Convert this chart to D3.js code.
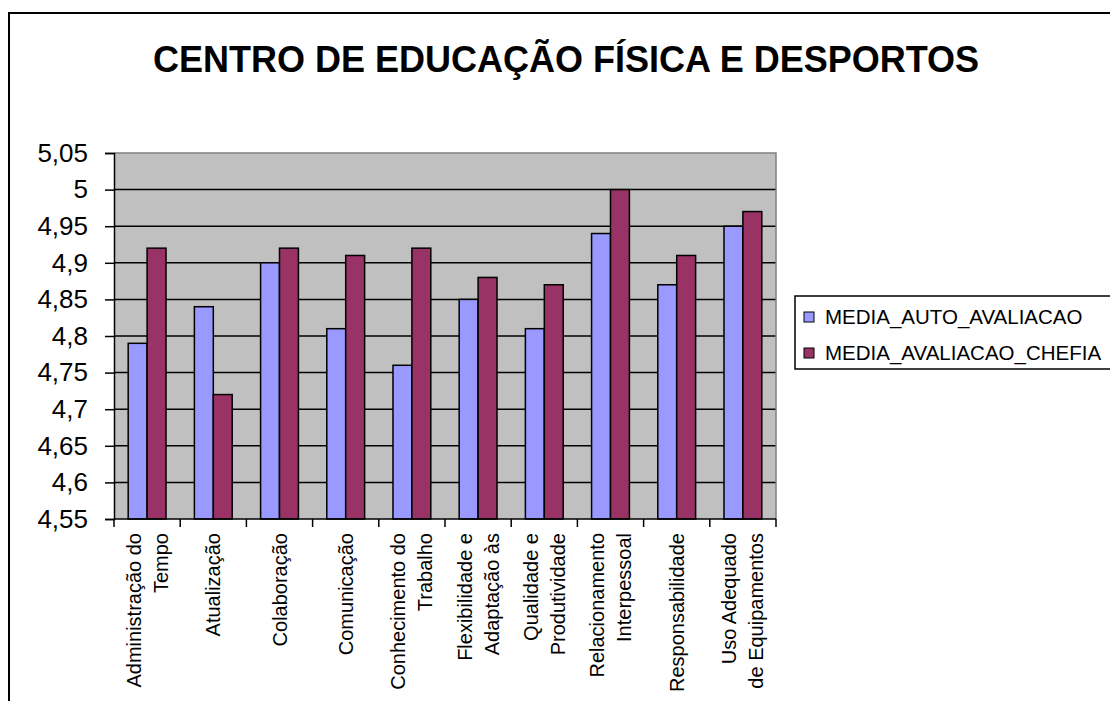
<html>

<head>
  <title>centro de educacao fisica</title>
  <meta charset="utf-8">
</head>
<style>
  body { margin: 0; background: #fff; }
  text { font-family: "Liberation Sans", Arial, sans-serif; }
</style>

<body>

  <div id="chart"></div>

</body>
<script src="https://d3js.org/d3.v7.min.js"></script>
<script>

  let width = 1110
  let height = 701

  // dados
  const categories = [
    ["Administração do", "Tempo"],
    ["Atualização"],
    ["Colaboração"],
    ["Comunicação"],
    ["Conhecimento do", "Trabalho"],
    ["Flexibilidade e", "Adaptação às"],
    ["Qualidade e", "Produtividade"],
    ["Relacionamento", "Interpessoal"],
    ["Responsabilidade"],
    ["Uso Adequado", "de Equipamentos"]
  ]
  const seriesNames = ["MEDIA_AUTO_AVALIACAO", "MEDIA_AVALIACAO_CHEFIA"]
  const autoValues = [4.79, 4.84, 4.90, 4.81, 4.76, 4.85, 4.81, 4.94, 4.87, 4.95]
  const chefiaValues = [4.92, 4.72, 4.92, 4.91, 4.92, 4.88, 4.87, 5.00, 4.91, 4.97]
  const yTicks = [4.55, 4.6, 4.65, 4.7, 4.75, 4.8, 4.85, 4.9, 4.95, 5, 5.05]
  const colors = ["#9999ff", "#993366"]

  const plot = { left: 114, right: 776, top: 153, bottom: 519 }

  let svg = d3.select("#chart")
    .append("svg")
    .attr("width", width)
    .attr("height", height)

  // moldura
  svg.append("rect")
    .attr("x", 9).attr("y", 13)
    .attr("width", 1300).attr("height", 900)
    .attr("fill", "none")
    .attr("stroke", "#000")
    .attr("stroke-width", 2)

  svg.append("text")
    .attr("x", 566)
    .attr("y", 72)
    .attr("text-anchor", "middle")
    .style("font-size", "36px")
    .style("font-weight", "bold")
    .text("CENTRO DE EDUCAÇÃO FÍSICA E DESPORTOS")

  let keys = categories.map(d => d.join(" "))

  let x0 = d3.scaleBand()
    .domain(keys)
    .range([plot.left, plot.right])

  let x1 = d3.scaleBand()
    .domain(seriesNames)
    .range([0, x0.bandwidth()])
    .paddingOuter(0.75)

  let y = d3.scaleLinear()
    .domain([4.55, 5.05])
    .range([plot.bottom, plot.top])

  // area do grafico
  svg.append("rect")
    .attr("x", plot.left).attr("y", plot.top)
    .attr("width", plot.right - plot.left)
    .attr("height", plot.bottom - plot.top)
    .attr("fill", "#c0c0c0")

  svg.append("g")
    .selectAll("line")
    .data(yTicks.slice(1, -1))
    .enter().append("line")
    .attr("x1", plot.left).attr("x2", plot.right)
    .attr("y1", d => y(d)).attr("y2", d => y(d))
    .attr("stroke", "#000")
    .attr("stroke-width", 1.5)

  svg.append("path")
    .attr("d", `M${plot.left},${plot.top}H${plot.right}V${plot.bottom}`)
    .attr("fill", "none")
    .attr("stroke", "#808080")
    .attr("stroke-width", 1.5)

  let rows = keys.map((k, i) => ({ key: k, values: [autoValues[i], chefiaValues[i]] }))

  svg.append("g")
    .selectAll("g")
    .data(rows)
    .enter().append("g")
    .attr("transform", d => `translate(${x0(d.key)},0)`)
    .selectAll("rect")
    .data(d => d.values.map((v, j) => ({ name: seriesNames[j], v: v, c: colors[j] })))
    .enter().append("rect")
    .attr("x", d => x1(d.name))
    .attr("width", x1.bandwidth())
    .attr("y", d => y(d.v))
    .attr("height", d => y(4.55) - y(d.v))
    .attr("fill", d => d.c)
    .attr("stroke", "#000")
    .attr("stroke-width", 1.5)

  // eixo y
  let yAxis = svg.append("g")
    .attr("transform", `translate(${plot.left},0)`)
    .call(d3.axisLeft(y).tickValues(yTicks).tickSize(9).tickPadding(17)
      .tickFormat(d => String(d).replace(".", ",")))
  yAxis.select(".domain").attr("stroke", "#000").attr("stroke-width", 1.5)
  yAxis.selectAll(".tick line").attr("stroke", "#000").attr("stroke-width", 1.5)
  yAxis.selectAll(".tick text")
    .attr("fill", "#000")
    .style("font-size", "26px")
    .style("font-family", "'Liberation Sans', Arial, sans-serif")

  // eixo x
  let xg = svg.append("g")
  xg.append("line")
    .attr("x1", plot.left).attr("x2", plot.right)
    .attr("y1", plot.bottom).attr("y2", plot.bottom)
    .attr("stroke", "#000").attr("stroke-width", 1.5)
  xg.selectAll(".tk")
    .data(keys.concat(["end"]))
    .enter().append("line")
    .attr("x1", d => d == "end" ? plot.right : x0(d))
    .attr("x2", d => d == "end" ? plot.right : x0(d))
    .attr("y1", plot.bottom).attr("y2", plot.bottom + 8)
    .attr("stroke", "#000").attr("stroke-width", 1.5)

  let lh = 27
  let labels = xg.selectAll(".lbl")
    .data(categories)
    .enter().append("text")
    .attr("transform", (d, i) => `translate(${x0(keys[i]) + x0.bandwidth() / 2},533) rotate(-90)`)
    .attr("text-anchor", "end")
    .style("font-size", "20px")

  labels.selectAll("tspan")
    .data(d => d.map((t, j) => ({ t: t, off: (j - (d.length - 1) / 2) * lh })))
    .enter().append("tspan")
    .attr("x", 0)
    .attr("y", d => d.off)
    .attr("dy", "0.35em")
    .text(d => d.t)

  // legenda
  let legend = svg.append("g")
  legend.append("rect")
    .attr("x", 795).attr("y", 296)
    .attr("width", 400).attr("height", 73)
    .attr("fill", "#fff")
    .attr("stroke", "#000")
    .attr("stroke-width", 1.5)

  let items = legend.selectAll(".item")
    .data(seriesNames)
    .enter().append("g")
    .attr("transform", (d, i) => `translate(804,${317 + i * 36})`)

  items.append("rect")
    .attr("x", 0).attr("y", -5)
    .attr("width", 10).attr("height", 10)
    .attr("fill", (d, i) => colors[i])
    .attr("stroke", "#000")
    .attr("stroke-width", 1)

  items.append("text")
    .attr("x", 21)
    .attr("y", 0)
    .attr("dy", "0.36em")
    .style("font-size", "20.5px")
    .text(d => d)

</script>

</html>
